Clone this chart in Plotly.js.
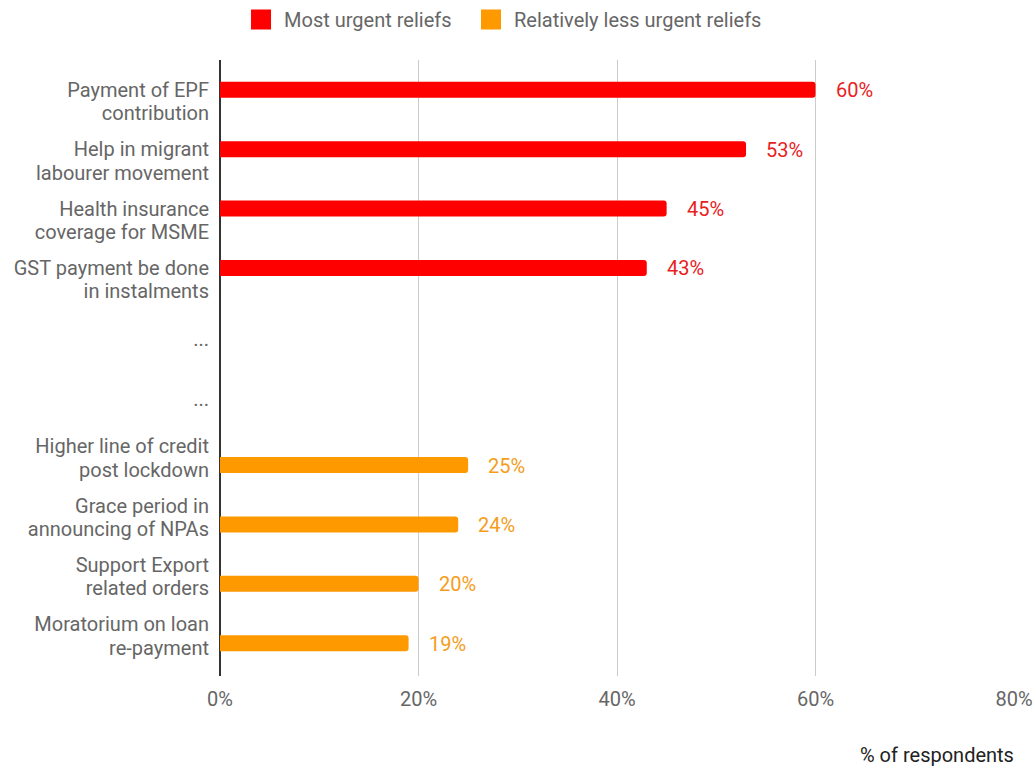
<!DOCTYPE html>
<html>
<head>
<meta charset="utf-8">
<script src="https://cdn.plot.ly/plotly-3.0.1.min.js"></script>
<style>html,body{margin:0;padding:0;background:#fff;}#chart{width:1034px;height:766px;}</style>
</head>
<body>
<div id="chart"></div>
<script>
// ---- data ----
const categories = [
  'Payment of EPF contribution',
  'Help in migrant labourer movement',
  'Health insurance coverage for MSME',
  'GST payment be done in instalments',
  '… (1)',
  '… (2)',
  'Higher line of credit post lockdown',
  'Grace period in announcing of NPAs',
  'Support Export related orders',
  'Moratorium on loan re-payment'
];
const tickLabels = [
  ['Payment of EPF', 'contribution'],
  ['Help in migrant', 'labourer movement'],
  ['Health insurance', 'coverage for MSME'],
  ['GST payment be done', 'in instalments'],
  ['...'],
  ['...'],
  ['Higher line of credit', 'post lockdown'],
  ['Grace period in', 'announcing of NPAs'],
  ['Support Export', 'related orders'],
  ['Moratorium on loan', 're-payment']
];
const urgentCategories = categories.slice(0, 4);
const urgentValues = [0.60, 0.53, 0.45, 0.43];
const lessUrgentCategories = categories.slice(6, 10);
const lessUrgentValues = [0.25, 0.24, 0.20, 0.19];
const seriesNames = ['Most urgent reliefs', 'Relatively less urgent reliefs'];
const xTicks = [0, 0.2, 0.4, 0.6, 0.8];

// ---- styles ----
const RED = '#ff0000';
const ORANGE = '#ff9900';
const RED_TEXT = '#e8211c';
const ORANGE_TEXT = '#f59d1a';
const FONT = 'Roboto, "Noto Sans", Arial, sans-serif';
const FS = 20;

const traces = [
  {
    type: 'bar', orientation: 'h', name: seriesNames[0], showlegend: false,
    x: urgentValues, y: urgentCategories, offsetgroup: 'a', alignmentgroup: 'g',
    marker: {color: RED}, hoverinfo: 'skip'
  },
  {
    type: 'bar', orientation: 'h', name: seriesNames[1], showlegend: false,
    x: lessUrgentValues, y: lessUrgentCategories, offsetgroup: 'b', alignmentgroup: 'g',
    marker: {color: ORANGE}, hoverinfo: 'skip'
  },
  // legend-only entries (larger square swatches)
  {
    type: 'scatter', mode: 'markers', name: seriesNames[0], x: [null], y: [null],
    legend: 'legend',
    marker: {symbol: 'square', size: 16, color: RED, line: {color: RED, width: 4}},
    hoverinfo: 'skip'
  },
  {
    type: 'scatter', mode: 'markers', name: seriesNames[1], x: [null], y: [null],
    legend: 'legend2',
    marker: {symbol: 'square', size: 16, color: ORANGE, line: {color: ORANGE, width: 4}},
    hoverinfo: 'skip'
  }
];

const fmt = v => Math.round(v * 100) + '%';
const annotations = [];
urgentValues.forEach((v, i) => annotations.push({
  x: v, y: urgentCategories[i], xref: 'x', yref: 'y',
  text: fmt(v), showarrow: false, xanchor: 'left', yanchor: 'middle',
  xshift: 18, yshift: 9, font: {family: FONT, size: FS, color: RED_TEXT}
}));
lessUrgentValues.forEach((v, i) => annotations.push({
  x: v, y: lessUrgentCategories[i], xref: 'x', yref: 'y',
  text: fmt(v), showarrow: false, xanchor: 'left', yanchor: 'middle',
  xshift: 18, yshift: -10, font: {family: FONT, size: FS, color: ORANGE_TEXT}
}));
annotations.push({
  xref: 'paper', yref: 'paper', x: 1, y: 0, xshift: 2, yshift: -79,
  xanchor: 'right', yanchor: 'middle', showarrow: false,
  text: '% of respondents', font: {family: FONT, size: FS, color: '#222222'}
});

const legendBase = {
  orientation: 'h', xref: 'container', yref: 'container',
  xanchor: 'left', y: 1, yanchor: 'top',
  font: {family: FONT, size: FS, color: '#666666'},
  itemclick: false, itemdoubleclick: false,
  itemsizing: 'trace', itemwidth: 36
};

const layout = {
  width: 1034, height: 766,
  margin: {l: 220, r: 20, t: 60, b: 90, pad: 0},
  paper_bgcolor: '#ffffff', plot_bgcolor: '#ffffff',
  font: {family: FONT, size: FS, color: '#666666'},
  barmode: 'group', bargap: 0.367, bargroupgap: 0.15, barcornerradius: 3,
  showlegend: true,
  legend: Object.assign({}, legendBase, {x: 0.2302}),
  legend2: Object.assign({}, legendBase, {x: 0.4526}),
  xaxis: {
    range: [0, 0.8], tickvals: xTicks, ticktext: xTicks.map(fmt),
    showgrid: true, gridcolor: '#cccccc', gridwidth: 1,
    zeroline: true, zerolinecolor: '#333333', zerolinewidth: 2,
    showline: false, ticks: '', ticklabelstandoff: 9,
    tickfont: {family: FONT, size: FS, color: '#666666'},
    automargin: false, fixedrange: true
  },
  yaxis: {
    type: 'category', categoryorder: 'array', categoryarray: categories,
    tickvals: categories,
    ticktext: tickLabels.map(lines => lines.map(t => '<span style="font-size:' + FS + 'px">' + t + '</span>').join('<br>')),
    range: [9.71, -0.66],
    showgrid: false, zeroline: false, showline: false, ticks: '',
    ticklabelstandoff: 10, ticklabelshift: -3,
    tickfont: {family: FONT, size: 18, color: '#666666'},
    automargin: false, fixedrange: true
  },
  annotations: annotations
};

Plotly.newPlot('chart', traces, layout, {displayModeBar: false, staticPlot: true});
</script>
</body>
</html>
